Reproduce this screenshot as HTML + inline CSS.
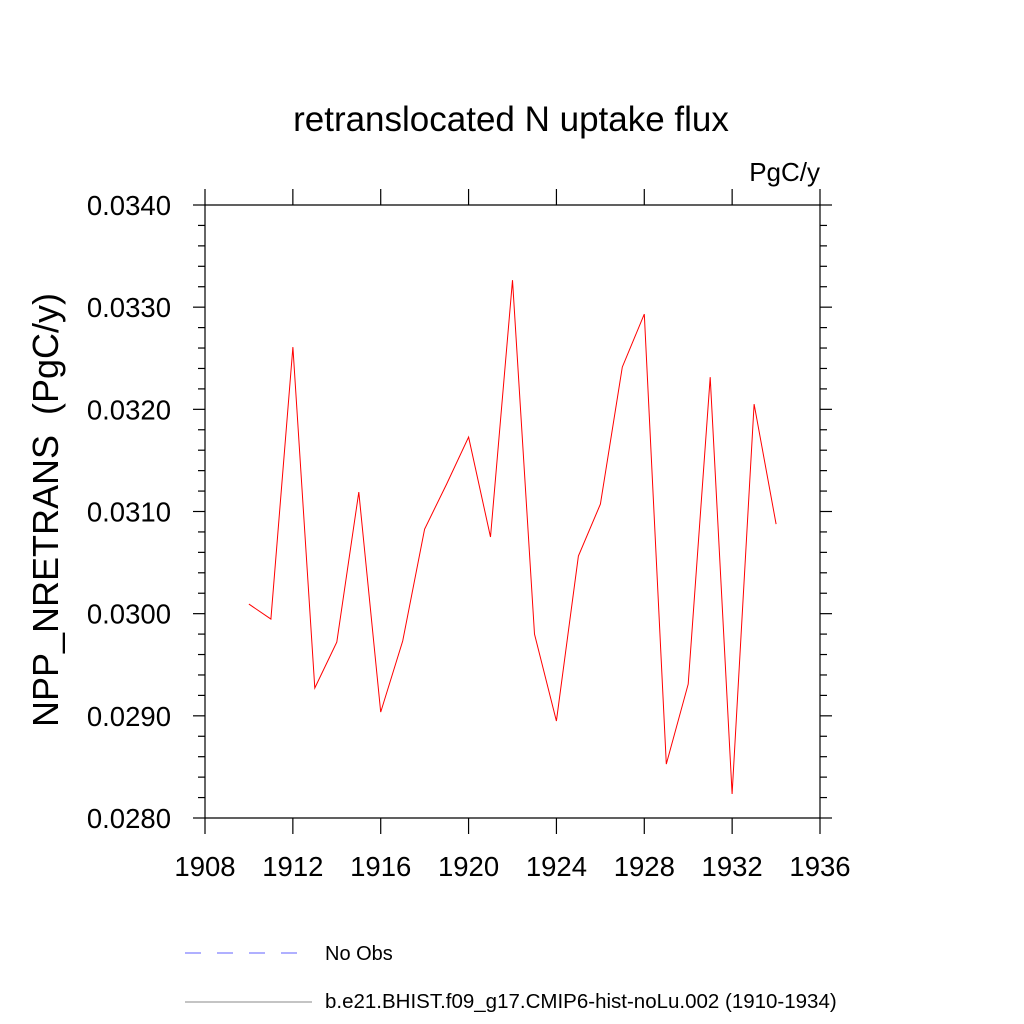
<!DOCTYPE html>
<html><head><meta charset="utf-8"><style>body{margin:0;background:#fff}svg{display:block}text{font-family:"Liberation Sans",sans-serif}</style></head>
<body>
<svg id="c" width="1024" height="1024" xmlns="http://www.w3.org/2000/svg">
<text x="511" y="131" font-size="35" text-anchor="middle">retranslocated N uptake flux</text>
<text x="820" y="181" font-size="26" text-anchor="end">PgC/y</text>
<text transform="translate(58,510) rotate(-90)" font-size="36" text-anchor="middle" xml:space="preserve">NPP_NRETRANS  (PgC/y)</text>
<g id="axes"></g>
<path id="line" fill="none" stroke="#ff0000" stroke-width="1"/>
<line x1="185" y1="953" x2="312" y2="953" stroke="#6060ff" stroke-width="1" stroke-dasharray="16,16"/>
<text x="325" y="960" font-size="20">No Obs</text>
<line x1="185" y1="1002" x2="312" y2="1002" stroke="#888" stroke-width="1"/>
<text x="325" y="1008" font-size="20.5">b.e21.BHIST.f09_g17.CMIP6-hist-noLu.002 (1910-1934)</text>
</svg>
<script>
const years=[1910,1911,1912,1913,1914,1915,1916,1917,1918,1919,1920,1921,1922,1923,1924,1925,1926,1927,1928,1929,1930,1931,1932,1933,1934];
const values=[0.030094,0.029947,0.032609,0.029272,0.029722,0.031190,0.029037,0.029732,0.030828,0.031268,0.031728,0.030750,0.033264,0.029800,0.028949,0.030564,0.031072,0.032413,0.032932,0.028528,0.029311,0.032315,0.028235,0.032051,0.030877];
const xTicks=[1908,1912,1916,1920,1924,1928,1932,1936];
const yTicks=[0.028,0.029,0.030,0.031,0.032,0.033,0.034];
const X0=205,X1=820,Y0=818,Y1=205;
const xs=v=>X0+(v-1908)/(1936-1908)*(X1-X0);
const ys=v=>Y0-(v-0.028)/(0.034-0.028)*(Y0-Y1);
const NS="http://www.w3.org/2000/svg";
const ax=document.getElementById('axes');
function ln(x1,y1,x2,y2,name){const l=document.createElementNS(NS,'line');l.setAttribute('x1',x1);l.setAttribute('y1',y1);l.setAttribute('x2',x2);l.setAttribute('y2',y2);l.setAttribute('stroke','#000');l.setAttribute('stroke-width','1.2');


ax.appendChild(l);}
function tx(x,y,s,anchor,name){const t=document.createElementNS(NS,'text');t.setAttribute('x',x);t.setAttribute('y',y);t.setAttribute('font-size','27.5');t.setAttribute('text-anchor',anchor);t.textContent=s;


ax.appendChild(t);}
ln(X0,Y1,X1,Y1,'plot-frame-top');ln(X0,Y0,X1,Y0,'plot-frame-bottom');ln(X0,Y1,X0,Y0,'plot-frame-left');ln(X1,Y1,X1,Y0,'plot-frame-right');
xTicks.forEach(v=>{const x=xs(v);ln(x,Y0,x,Y0+16,'x-tick');ln(x,Y1,x,Y1-16,'x-tick-top');tx(x,Y0+58,String(v),'middle','x-tick-label');});
yTicks.forEach(v=>{const y=ys(v);ln(X0-12,y,X0,y,'y-tick');ln(X1,y,X1+12,y,'y-tick-right');tx(X0-34,y+10,v.toFixed(4),'end','y-tick-label');});
for(let i=0;i<30;i++){const v=0.028+i*0.0002;if(i%5===0)continue;const y=ys(v);ln(X0-7,y,X0,y,'y-minor-tick');ln(X1,y,X1+7,y,'y-minor-tick-right');}
document.getElementById('line').setAttribute('d',years.map((yr,i)=>(i?'L':'M')+xs(yr).toFixed(1)+','+ys(values[i]).toFixed(1)).join(''));
</script>
</body></html>
